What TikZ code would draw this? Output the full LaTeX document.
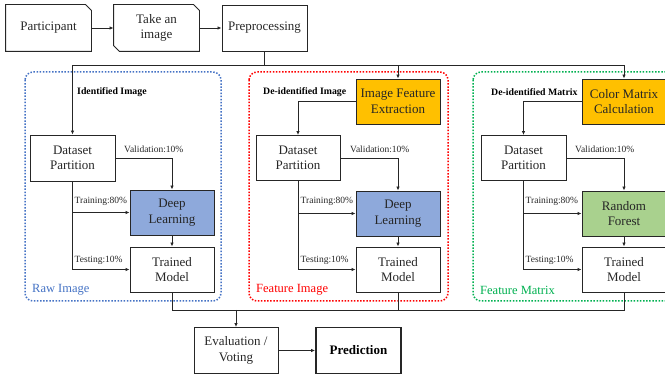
\documentclass[tikz,border=0pt]{standalone}
\usepackage{fontspec}
\setmainfont{Liberation Serif}
\usetikzlibrary{arrows.meta}
\definecolor{ink}{HTML}{262626}
\definecolor{dlblue}{HTML}{8EA9DB}
\definecolor{featorange}{HTML}{FFC000}
\definecolor{rfgreen}{HTML}{A9D18E}
\definecolor{rawblue}{HTML}{4472C4}
\definecolor{featred}{HTML}{FF0000}
\definecolor{matgreen}{HTML}{00B050}
\tikzset{
  box/.style={draw=ink, line width=0.9pt, minimum width=84pt, minimum height=45pt,
    inner sep=1pt, align=center, text=ink, font=\fontsize{13}{15.5}\selectfont},
  plainbox/.style={box, draw=none},
  arr/.style={draw=ink, line width=0.9pt, -{Latex[length=4pt,width=3.5pt]}},
  wire/.style={draw=ink, line width=0.9pt},
  tag/.style={inner sep=0pt, anchor=west, text=ink, font=\fontsize{9.5}{11}\selectfont},
  headtag/.style={inner sep=0pt, anchor=west, text=black, font=\fontsize{9.8}{11}\selectfont\bfseries},
  paneltag/.style={inner sep=0pt, anchor=west, font=\fontsize{12.5}{14}\selectfont},
  panel/.style={line width=1.5pt, dash pattern=on 1.5pt off 1.6pt, rounded corners=8pt}
}
\begin{document}
\begin{tikzpicture}[x=1pt,y=-1pt]
\useasboundingbox (0,0) rectangle (665,377);
\clip (0,0) rectangle (665,377);

% dotted panel frames
\draw[panel, draw=rawblue] (25,72) rectangle (221,301);
\draw[panel, draw=featred] (249,72) rectangle (448,301);
\draw[panel, draw=matgreen] (473,72) rectangle (700,301);

% acquisition chain
\node[plainbox, minimum width=85pt, minimum height=46pt] (part) at (48.5,28) {Participant};
\draw[ink, line width=0.9pt] (part.north west) -- ([xshift=-6pt]part.north east)
  -- ([yshift=-6pt]part.north east) -- (part.south east) -- (part.south west) -- cycle;
\node[plainbox, minimum width=85pt, minimum height=46pt] (take) at (156.5,28) {Take an\\image};
\draw[ink, line width=0.9pt] (take.north west) -- ([xshift=-6pt]take.north east)
  -- ([yshift=-6pt]take.north east) -- (take.south east) -- ([xshift=6pt]take.south west)
  -- ([yshift=6pt]take.south west) -- cycle;
\node[box, minimum width=85pt, minimum height=46pt] (prep) at (264.5,28) {Preprocessing};

% raw image branch
\node[box, minimum width=85pt, minimum height=46pt] (dp1) at (72.5,158) {Dataset\\Partition};
\node[box, fill=dlblue] (dl1) at (172,212.5) {Deep\\Learning};
\node[box] (tm1) at (172,269.5) {Trained\\Model};

% feature image branch
\node[box, fill=featorange] (ife) at (398,101.5) {Image Feature\\Extraction};
\node[box] (dp2) at (298,158) {Dataset\\Partition};
\node[box, fill=dlblue] (dl2) at (398,213.5) {Deep\\Learning};
\node[box] (tm2) at (398,269.5) {Trained\\Model};

% feature matrix branch
\node[box, fill=featorange] (cmc) at (624,101.5) {Color Matrix\\Calculation};
\node[box, minimum width=85pt] (dp3) at (523.5,158) {Dataset\\Partition};
\node[box, fill=rfgreen] (rf) at (624,213.5) {Random\\Forest};
\node[box] (tm3) at (624,269.5) {Trained\\Model};

% final stage
\node[box, minimum height=46pt] (eval) at (236,350.5) {Evaluation /\\Voting};
\node[box, line width=1.8pt, minimum width=85pt, minimum height=46pt, font=\fontsize{13}{15.5}\selectfont\bfseries, text=black] (pred) at (358.5,350.5) {Prediction};

% chain arrows
\draw[arr] (part) -- (take);
\draw[arr] (take) -- (prep);
\draw[wire] (prep.south) -- ++(0,14) coordinate (split);
\draw[arr] (split) -| (dp1.north);
\draw[arr] (split) -| (ife.north);
\draw[arr] (split) -| (cmc.north);
\draw[arr] (ife.west) -| (dp2.north);
\draw[arr] (cmc.west) -| (dp3.north);

% partition splits
\foreach \d/\l/\t in {dp1/dl1/tm1, dp2/dl2/tm2, dp3/rf/tm3}{
  \draw[arr] (\d.east) -| (\l.north);
  \draw[arr] (\d.south) |- (\t.west);
  \draw[arr] (\d.south |- \l.west) -- (\l.west);
  \draw[arr] (\l.south) -- (\t.north);
}

% merge of trained models
\coordinate (bus) at (236,310);
\draw[wire] (tm1.south) |- (bus);
\draw[wire] (tm3.south) |- (bus);
\draw[wire] (tm2.south) -- (tm2.south |- bus);
\draw[arr] (bus) -- (eval.north);
\draw[arr] (eval) -- (pred);

% branch headings
\node[headtag] (h1) at (77,92) {Identified Image};
\node[headtag] (h2) at (263,92) {De-identified Image};
\node[headtag] (h3) at (491,92) {De-identified Matrix};

% split ratios
\node[tag] (v1) at (124,149) {Validation:10\%};
\node[tag] (r1) at (74.5,201) {Training:80\%};
\node[tag] (s1) at (74.5,260) {Testing:10\%};
\node[tag] (v2) at (350,149) {Validation:10\%};
\node[tag] (r2) at (300.5,201) {Training:80\%};
\node[tag] (s2) at (300.5,260) {Testing:10\%};
\node[tag] (v3) at (575,149) {Validation:10\%};
\node[tag] (r3) at (525.5,201) {Training:80\%};
\node[tag] (s3) at (525.5,260) {Testing:10\%};

% panel names
\node[paneltag, text=rawblue] (p1) at (32,290) {Raw Image};
\node[paneltag, text=featred] (p2) at (256,290) {Feature Image};
\node[paneltag, text=matgreen] (p3) at (480,290) {Feature Matrix};
\end{tikzpicture}
\end{document}
